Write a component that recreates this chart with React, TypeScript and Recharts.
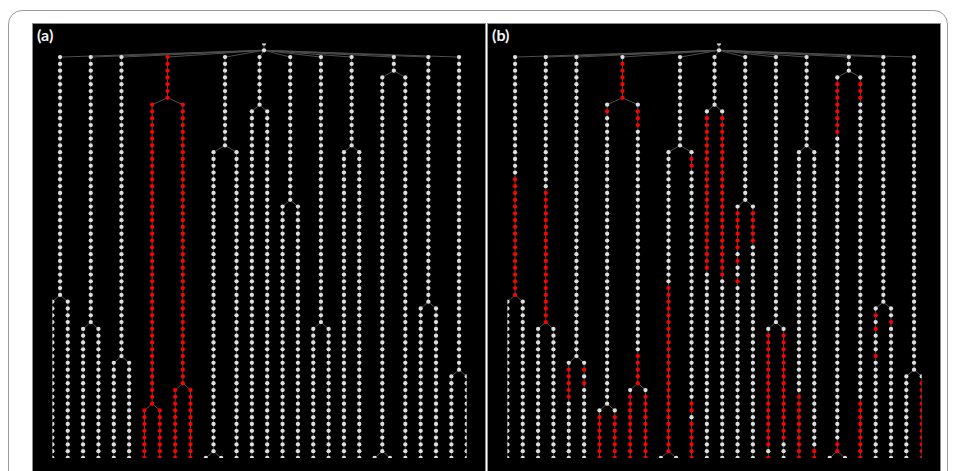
import React from "react";
import { ScatterChart, Scatter, XAxis, YAxis } from "recharts";

// lineage: [id, parent, first row, last row, leaf column (-1 = internal)]
type Lineage = [string, string | null, number, number, number];

const lineages: Lineage[] = [
  ["root", null, -2, -2, -1],
  ["hub", "root", -1, -1, -1],
  ["A", "hub", 0, 35, -1],
  ["A1", "A", 36, 59, 0],
  ["A2", "A", 36, 59, 1],
  ["B", "hub", 0, 39, -1],
  ["B1", "B", 40, 59, 2],
  ["B2", "B", 40, 59, 3],
  ["C", "hub", 0, 44, -1],
  ["C1", "C", 45, 59, 4],
  ["C2", "C", 45, 59, 5],
  ["D", "hub", 0, 6, -1],
  ["D1", "D", 7, 51, -1],
  ["D11", "D1", 52, 59, 6],
  ["D12", "D1", 52, 59, 7],
  ["D2", "D", 7, 48, -1],
  ["D21", "D2", 49, 59, 8],
  ["D22", "D2", 49, 59, 9],
  ["E", "hub", 0, 13, -1],
  ["E1", "E", 14, 58, -1],
  ["E11", "E1", 59, 59, 10],
  ["E12", "E1", 59, 59, 11],
  ["E2", "E", 14, 59, 12],
  ["F", "hub", 0, 7, -1],
  ["F1", "F", 8, 59, 13],
  ["F2", "F", 8, 59, 14],
  ["G", "hub", 0, 21, -1],
  ["G1", "G", 22, 59, 15],
  ["G2", "G", 22, 59, 16],
  ["H", "hub", 0, 39, -1],
  ["H1", "H", 40, 59, 17],
  ["H2", "H", 40, 59, 18],
  ["I", "hub", 0, 13, -1],
  ["I1", "I", 14, 59, 19],
  ["I2", "I", 14, 59, 20],
  ["J", "hub", 0, 2, -1],
  ["J1", "J", 3, 58, -1],
  ["J11", "J1", 59, 59, 21],
  ["J12", "J1", 59, 59, 22],
  ["J2", "J", 3, 59, 23],
  ["K", "hub", 0, 36, -1],
  ["K1", "K", 37, 59, 24],
  ["K2", "K", 37, 59, 25],
  ["L", "hub", 0, 46, -1],
  ["L1", "L", 47, 59, 26],
  ["L2", "L", 47, 59, 27],
];

// red stretches: [lineage, first row, last row]
const redA: [string, number, number][] = [
  ["D", 0, 6],
  ["D1", 7, 51],
  ["D11", 52, 59],
  ["D12", 52, 59],
  ["D2", 7, 48],
  ["D21", 49, 59],
  ["D22", 49, 59],
];

const redB: [string, number, number][] = [
  ["A", 18, 35],
  ["B", 20, 39],
  ["C1", 46, 50],
  ["C2", 46, 46],
  ["C2", 48, 48],
  ["D", 1, 6],
  ["D1", 8, 8],
  ["D2", 8, 10],
  ["D2", 44, 48],
  ["D11", 53, 59],
  ["D12", 53, 59],
  ["D21", 50, 59],
  ["D22", 50, 59],
  ["E2", 15, 16],
  ["E1", 34, 58],
  ["E2", 51, 52],
  ["E2", 54, 59],
  ["F1", 9, 31],
  ["F2", 9, 32],
  ["G1", 23, 28],
  ["G1", 30, 30],
  ["G1", 33, 33],
  ["G2", 23, 27],
  ["H1", 41, 57],
  ["H1", 59, 59],
  ["H2", 41, 56],
  ["I1", 50, 59],
  ["I2", 58, 59],
  ["J1", 4, 11],
  ["J2", 4, 6],
  ["J1", 57, 58],
  ["J2", 51, 59],
  ["K1", 38, 38],
  ["K1", 40, 40],
  ["K1", 44, 44],
  ["K2", 39, 39],
  ["L2", 48, 59],
];

const panelLabels = ["(a)", "(b)"];
const panelReds = [redA, redB];

const W = 452;
const H = 447;
const NODE = "#dedede";
const RED = "#ff0000";
const EDGE = "#4e4e4e";

type Pt = { x: number; y: number };

function buildTree(red: [string, number, number][]) {
  const byId: Record<string, Lineage> = {};
  const kids: Record<string, string[]> = {};
  lineages.forEach((l) => {
    byId[l[0]] = l;
    if (l[1]) (kids[l[1]] = kids[l[1]] || []).push(l[0]);
  });
  const xs: Record<string, number> = {};
  const xOf = (id: string): number => {
    if (xs[id] !== undefined) return xs[id];
    const l = byId[id];
    const c = kids[id] || [];
    const v = l[4] >= 0 ? l[4] : c.map(xOf).reduce((a, b) => a + b, 0) / c.length;
    xs[id] = v;
    return v;
  };
  const isRed = (id: string, row: number) =>
    red.some(([rid, a, b]) => rid === id && row >= a && row <= b);

  const white: Pt[] = [];
  const reds: Pt[] = [];
  const edges: Pt[][] = [];
  lineages.forEach(([id, parent, first, last]) => {
    const x = xOf(id);
    for (let r = first; r <= last; r++) {
      (isRed(id, r) ? reds : white).push({ x, y: r });
    }
    if (last > first) edges.push([{ x, y: first }, { x, y: last }]);
    if (parent) {
      const p = byId[parent];
      edges.push([{ x: xOf(parent), y: p[3] }, { x, y: first }]);
    }
  });
  return { white, reds, edges };
}

const dot = (fill: string) => (props: any) => (
  <circle cx={props.cx} cy={props.cy} r={2.15} fill={fill} />
);
const noDot = () => <g />;

const Panel: React.FC<{ label: string; red: [string, number, number][]; left: number }> = ({
  label,
  red,
  left,
}) => {
  const { white, reds, edges } = buildTree(red);
  return (
    <div
      style={{
        position: "absolute",
        left,
        top: 24,
        width: W,
        height: H,
        background: "#000",
        boxShadow: "0 0 0 1px #8e8e8e",
      }}
    >
      <ScatterChart width={W} height={H} margin={{ top: 19.5, right: 18.3, bottom: 13, left: 19.4 }}>
        <XAxis type="number" dataKey="x" domain={[0, 27]} allowDataOverflow hide />
        <YAxis type="number" dataKey="y" domain={[-2, 59]} allowDataOverflow reversed hide />
        {edges.map((seg, i) => (
          <Scatter
            key={i}
            data={seg}
            line={{ stroke: EDGE, strokeWidth: 1 }}
            lineType="joint"
            shape={noDot}
            isAnimationActive={false}
          />
        ))}
        <Scatter data={white} shape={dot(NODE)} isAnimationActive={false} />
        <Scatter data={reds} shape={dot(RED)} isAnimationActive={false} />
      </ScatterChart>
      <div
        style={{
          position: "absolute",
          left: 4,
          top: 3,
          color: "#f2f2f2",
          fontFamily: "Lato, 'Open Sans', sans-serif",
          fontWeight: 700,
          fontSize: 16,
          lineHeight: "16px",
        }}
      >
        {label}
      </div>
    </div>
  );
};

export default function App() {
  return (
    <div
      style={{
        position: "absolute",
        left: 0,
        top: 0,
        width: 955,
        height: 471,
        overflow: "hidden",
        background: "#fff",
      }}
    >
      <div
        style={{
          position: "absolute",
          left: 8,
          top: 10,
          width: 938,
          height: 500,
          border: "1px solid #9a9a9a",
          borderRadius: 14,
        }}
      />
      <Panel label={panelLabels[0]} red={panelReds[0]} left={33} />
      <Panel label={panelLabels[1]} red={panelReds[1]} left={488} />
    </div>
  );
}
